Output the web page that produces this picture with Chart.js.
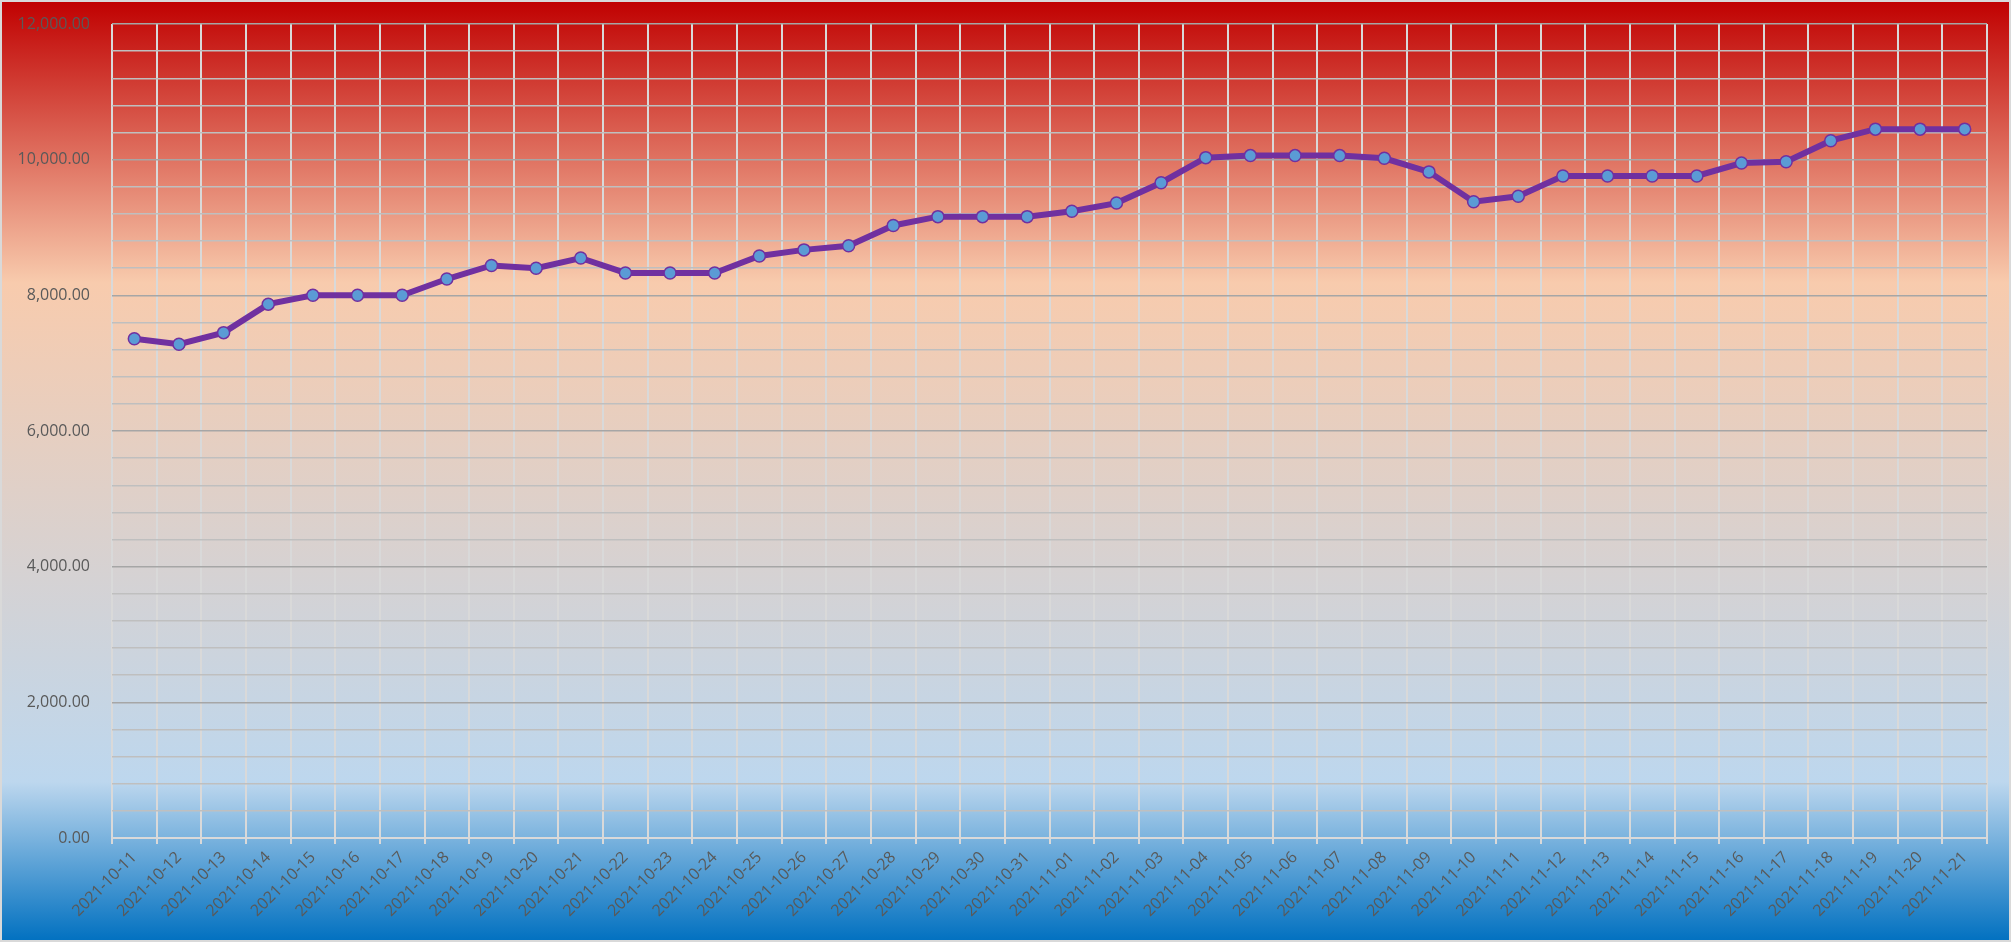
<!DOCTYPE html>
<html>
<head>
<meta charset="utf-8">
<script src="https://cdn.jsdelivr.net/npm/chart.js@4/dist/chart.umd.min.js"></script>
<style>
html,body{margin:0;padding:0;background:#fff;}
canvas{display:block;}
</style>
</head>
<body>
<canvas id="c" width="2011" height="942"></canvas>
<script>
const categories = [
  "2021-10-11","2021-10-12","2021-10-13","2021-10-14","2021-10-15","2021-10-16","2021-10-17",
  "2021-10-18","2021-10-19","2021-10-20","2021-10-21","2021-10-22","2021-10-23","2021-10-24",
  "2021-10-25","2021-10-26","2021-10-27","2021-10-28","2021-10-29","2021-10-30","2021-10-31",
  "2021-11-01","2021-11-02","2021-11-03","2021-11-04","2021-11-05","2021-11-06","2021-11-07",
  "2021-11-08","2021-11-09","2021-11-10","2021-11-11","2021-11-12","2021-11-13","2021-11-14",
  "2021-11-15","2021-11-16","2021-11-17","2021-11-18","2021-11-19","2021-11-20","2021-11-21"
];
const values = [
  7360, 7280, 7450, 7870, 8000, 8000, 8000,
  8240, 8440, 8400, 8550, 8330, 8330, 8330,
  8580, 8670, 8730, 9030, 9160, 9160, 9160,
  9240, 9360, 9660, 10030, 10060, 10060, 10060,
  10020, 9820, 9380, 9460, 9760, 9760, 9760,
  9760, 9950, 9970, 10280, 10450, 10450, 10450
];
const yMin = 0;
const yMax = 12000;
const yMinorStep = 400;
const yLabelStep = 2000;

const bgPlugin = {
  id: 'bg',
  beforeDraw(chart) {
    const ctx = chart.ctx, w = chart.width, h = chart.height;
    const g = ctx.createLinearGradient(0, 0, 0, h);
    g.addColorStop(0, '#c00000');
    g.addColorStop(0.30, '#f8cbad');
    g.addColorStop(0.83, '#bdd7ee');
    g.addColorStop(1, '#0070c0');
    ctx.save();
    ctx.fillStyle = g;
    ctx.fillRect(0, 0, w, h);
    ctx.restore();
  },
  afterDraw(chart) {
    const ctx = chart.ctx;
    ctx.save();
    ctx.strokeStyle = '#d9d9d9';
    ctx.lineWidth = 2;
    ctx.strokeRect(1, 1, chart.width - 2, chart.height - 2);
    ctx.restore();
  }
};

new Chart(document.getElementById('c'), {
  type: 'line',
  data: {
    labels: categories,
    datasets: [{
      data: values,
      borderColor: '#7030a0',
      borderWidth: 6,
      backgroundColor: '#5b9bd5',
      pointBackgroundColor: '#5b9bd5',
      pointBorderColor: '#7030a0',
      pointBorderWidth: 1.5,
      pointRadius: 6,
      tension: 0,
      fill: false
    }]
  },
  options: {
    responsive: false,
    animation: false,
    devicePixelRatio: 1,
    layout: { padding: { top: 24, right: 24, left: 0, bottom: 0 } },
    plugins: { legend: { display: false }, tooltip: { enabled: false } },
    scales: {
      x: {
        offset: true,
        grid: {
          offset: true,
          color: '#d9d9d9',
          lineWidth: 2,
          drawTicks: true,
          tickLength: 6,
          tickColor: '#d9d9d9'
        },
        border: { color: '#d9d9d9', width: 2 },
        ticks: {
          autoSkip: false,
          maxRotation: 45,
          minRotation: 45,
          padding: 4,
          color: '#595959',
          font: { family: "'Open Sans', sans-serif", size: 16 }
        },
        afterFit(scale) { scale.height = 104; scale.paddingLeft = 0; scale.paddingRight = 0; }
      },
      y: {
        min: yMin,
        max: yMax,
        grid: {
          drawTicks: false,
          lineWidth: 1.5,
          color(ctx) {
            const v = ctx.tick ? ctx.tick.value : 0;
            if (v === 0) return 'rgba(0,0,0,0)';
            return (v % yLabelStep === 0) ? '#a6a6a6' : '#bfbfbf';
          }
        },
        border: { display: false },
        ticks: {
          stepSize: yMinorStep,
          padding: 22,
          color: '#595959',
          font: { family: "'Open Sans', sans-serif", size: 16 },
          callback(v) {
            if (v % yLabelStep !== 0) return '';
            return Number(v).toLocaleString('en-US', { minimumFractionDigits: 2, maximumFractionDigits: 2 });
          }
        },
        afterFit(scale) { scale.width = 112; scale.paddingTop = 0; scale.paddingBottom = 0; }
      }
    }
  },
  plugins: [bgPlugin]
});
</script>
</body>
</html>
